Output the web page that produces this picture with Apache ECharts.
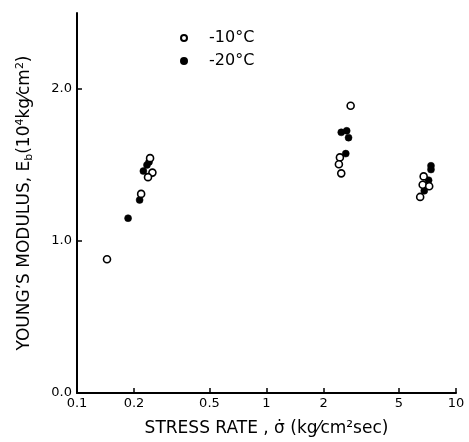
<!DOCTYPE html>
<html>
<head>
<meta charset="utf-8">
<script src="https://cdn.jsdelivr.net/npm/echarts@6/dist/echarts.min.js"></script>
<style>html,body{margin:0;padding:0;background:#fff}#c{width:469px;height:442px}</style>
</head>
<body>
<div id="c"></div>
<script>
const xTicks = [0.1, 0.2, 0.5, 1, 2, 5, 10];
const xTickLabels = ['0.1', '0.2', '0.5', '1', '2', '5', '10'];
const yTicks = [0, 1, 2];
const seriesNames = ['-10°C', '-20°C'];
const minus10X = [0.144, 0.218, 0.243, 0.250, 0.237, 2.78, 2.44, 2.41, 2.48, 6.75, 6.67, 7.22, 6.47];
const minus10Y = [0.88, 1.31, 1.545, 1.45, 1.42, 1.89, 1.55, 1.505, 1.445, 1.425, 1.37, 1.36, 1.29];
const minus20X = [0.186, 0.214, 0.224, 0.234, 0.240, 2.48, 2.65, 2.71, 2.62, 7.38, 7.38, 7.17, 6.80];
const minus20Y = [1.15, 1.27, 1.46, 1.50, 1.52, 1.715, 1.725, 1.68, 1.575, 1.495, 1.47, 1.40, 1.33];

const zip = (xs, ys) => xs.map((x, i) => [x, ys[i]]);
const font = 'DejaVu Sans';
const chart = echarts.init(document.getElementById('c'), null, {renderer: 'canvas'});
chart.setOption({
  animation: false,
  backgroundColor: '#fff',
  grid: {left: 77, right: 13, top: 13, bottom: 49, containLabel: false},
  legend: {
    orient: 'vertical', left: 175, top: 25,
    data: seriesNames,
    itemWidth: 6, itemHeight: 6, itemGap: 7,
    textStyle: {fontFamily: font, fontSize: 16, color: '#000', padding: [0, 0, 0, 17]},
    selectedMode: false
  },
  xAxis: {
    type: 'log', logBase: 10, min: 0.1, max: 10,
    name: 'STRESS RATE , σ\u0307 (kg\u2044cm\u00B2sec)',
    nameLocation: 'middle', nameGap: 27,
    nameTextStyle: {fontFamily: font, fontSize: 17, color: '#000'},
    axisLine: {lineStyle: {color: '#000', width: 2}},
    axisTick: {show: true, inside: true, length: 5, lineStyle: {color: '#000', width: 1.5}, customValues: xTicks},
    minorTick: {show: false},
    splitLine: {show: false},
    axisLabel: {
      customValues: xTicks,
      fontFamily: font, fontSize: 13, color: '#000', margin: 4,
      formatter: v => xTickLabels[xTicks.findIndex(t => Math.abs(t - v) < 1e-9)] ?? String(v)
    }
  },
  yAxis: {
    type: 'value', min: 0, max: 2.5,
    name: '{a|YOUNG\u2019S MODULUS, E}{s|b}{a|(10}{p|4}{a|kg\u2044cm}{p|2}{a|)}',
    nameLocation: 'middle', nameGap: 42,
    nameTextStyle: {
      fontFamily: font, fontSize: 17, color: '#000',
      rich: {
        a: {fontFamily: font, fontSize: 17, color: '#000'},
        s: {fontFamily: font, fontSize: 11, color: '#000', padding: [9, 0, 0, 0]},
        p: {fontFamily: font, fontSize: 11, color: '#000', padding: [0, 0, 9, 0]}
      }
    },
    axisLine: {show: true, lineStyle: {color: '#000', width: 2}},
    axisTick: {show: true, inside: true, length: 5, lineStyle: {color: '#000', width: 1.5}, customValues: yTicks},
    splitLine: {show: false},
    axisLabel: {
      customValues: yTicks,
      fontFamily: font, fontSize: 13, color: '#000', margin: 5,
      formatter: v => Number(v).toFixed(1)
    }
  },
  series: [
    {
      name: seriesNames[1], type: 'scatter', symbol: 'circle', symbolSize: 7,
      itemStyle: {color: '#000', borderColor: '#000', borderWidth: 0.5, opacity: 1},
      data: zip(minus20X, minus20Y), z: 2
    },
    {
      name: seriesNames[0], type: 'scatter', symbol: 'circle', symbolSize: 7,
      itemStyle: {color: '#fff', borderColor: '#000', borderWidth: 1.6, opacity: 1},
      data: zip(minus10X, minus10Y), z: 3
    }
  ]
});
</script>
</body>
</html>
